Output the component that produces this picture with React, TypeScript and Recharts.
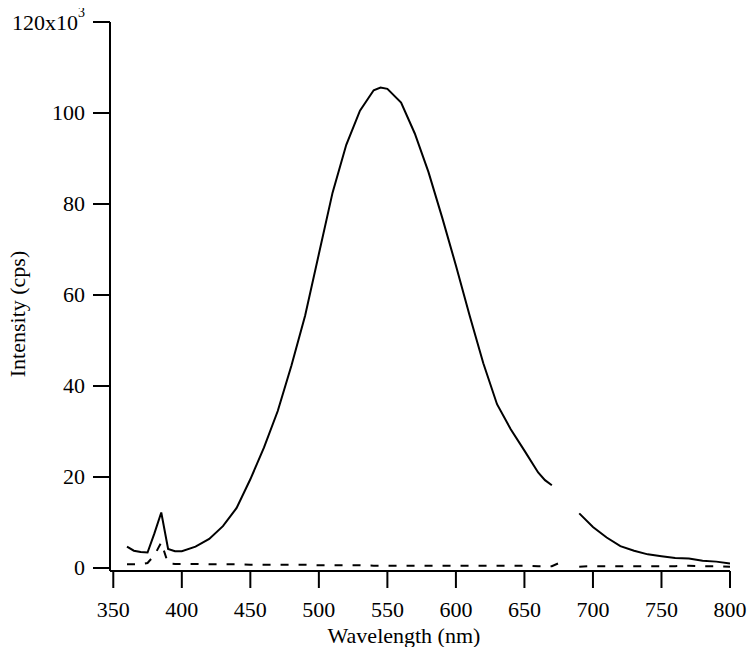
import React from 'react';
import { LineChart, Line, XAxis, YAxis } from 'recharts';

// wavelength (nm); null marks the gap in the recorded spectra
const wavelengths = [
  360, 365, 370, 375, 380, 385, 390, 395, 400, 410, 420, 430, 440, 450, 460, 470,
  480, 490, 500, 510, 520, 530, 540, 545, 550, 560, 570, 580, 590, 600, 610, 620,
  630, 640, 650, 660, 665, 670, 676, 685, 690, 700, 710, 720, 730, 740, 750, 760,
  770, 780, 790, 800,
];

// emission intensity, x10^3 cps
const emission = [
  4.7, 3.8, 3.5, 3.4, 7.6, 12.2, 4.2, 3.7, 3.7, 4.7, 6.4, 9.2, 13.2, 19.5, 26.5, 34.5,
  44.5, 55.5, 69, 82.5, 93, 100.5, 105, 105.6, 105.3, 102.3, 95.5, 87, 77, 66.5, 55.5, 45,
  36, 30.5, 25.8, 21, 19.3, 18.2, null, null, 12, 9, 6.7, 4.8, 3.8, 3, 2.6, 2.2,
  2.1, 1.6, 1.4, 1.0,
];

// background / blank, x10^3 cps
const blank = [
  0.8, 0.8, 0.8, 1.1, 2.8, 5.6, 1.0, 0.9, 0.9, 0.9, 0.8, 0.8, 0.8, 0.7, 0.7, 0.7,
  0.7, 0.7, 0.6, 0.6, 0.6, 0.6, 0.5, 0.5, 0.5, 0.5, 0.5, 0.5, 0.5, 0.5, 0.5, 0.5,
  0.5, 0.5, 0.5, 0.4, 0.4, 0.4, 1.2, null, 0.3, 0.4, 0.4, 0.4, 0.4, 0.4, 0.4, 0.4,
  0.5, 0.4, 0.4, 0.3,
];

const xTicks = [350, 400, 450, 500, 550, 600, 650, 700, 750, 800];
const yTicks = [0, 20, 40, 60, 80, 100, 120];

const data = wavelengths.map((w, i) => ({ w, emission: emission[i], blank: blank[i] }));

const textStyle = {
  fontFamily: '"Liberation Serif", "Times New Roman", serif',
  fontSize: 22,
  fill: '#000',
};

const YTick = (props: any) => {
  const { x, y, payload } = props;
  const v = payload.value;
  return (
    <text x={x} y={y} textAnchor="end" dominantBaseline="central" style={textStyle}>
      {v === 120 ? (
        <>
          120x10<tspan dy={-10} style={{ fontSize: 14 }}>3</tspan>
        </>
      ) : (
        v
      )}
    </text>
  );
};

const XTick = (props: any) => {
  const { x, y, payload } = props;
  return (
    <text x={x} y={y} textAnchor="middle" dy={15} style={textStyle}>
      {payload.value}
    </text>
  );
};

export default function App() {
  return (
    <div style={{ width: 756, height: 655, margin: -8 }}>
      <LineChart width={756} height={655} data={data} margin={{ top: 22, right: 26, left: 0, bottom: 0 }}>
        <XAxis
          dataKey="w"
          type="number"
          domain={[347.6, 800]}
          ticks={xTicks}
          allowDataOverflow
          height={84}
          tickSize={17}
          tickMargin={14}
          axisLine={{ stroke: '#000', strokeWidth: 2 }}
          tickLine={{ stroke: '#000', strokeWidth: 2 }}
          tick={<XTick />}
          label={{
            content: () => (
              <text x={404} y={643} textAnchor="middle" style={textStyle}>
                Wavelength (nm)
              </text>
            ),
          }}
        />
        <YAxis
          type="number"
          domain={[-0.66, 120]}
          ticks={yTicks}
          allowDataOverflow
          width={110}
          tickSize={17}
          tickMargin={8}
          axisLine={{ stroke: '#000', strokeWidth: 2 }}
          tickLine={{ stroke: '#000', strokeWidth: 2 }}
          tick={<YTick />}
          label={{
            content: () => (
              <text
                x={17}
                y={314}
                transform="rotate(-90 17 314)"
                textAnchor="middle"
                dominantBaseline="central"
                style={textStyle}
              >
                Intensity (cps)
              </text>
            ),
          }}
        />
        <Line
          dataKey="emission"
          type="linear"
          stroke="#000"
          strokeWidth={2}
          dot={false}
          activeDot={false}
          connectNulls={false}
          isAnimationActive={false}
        />
        <Line
          dataKey="blank"
          type="linear"
          stroke="#000"
          strokeWidth={2}
          strokeDasharray="8 10"
          dot={false}
          activeDot={false}
          connectNulls={false}
          isAnimationActive={false}
        />
      </LineChart>
    </div>
  );
}
